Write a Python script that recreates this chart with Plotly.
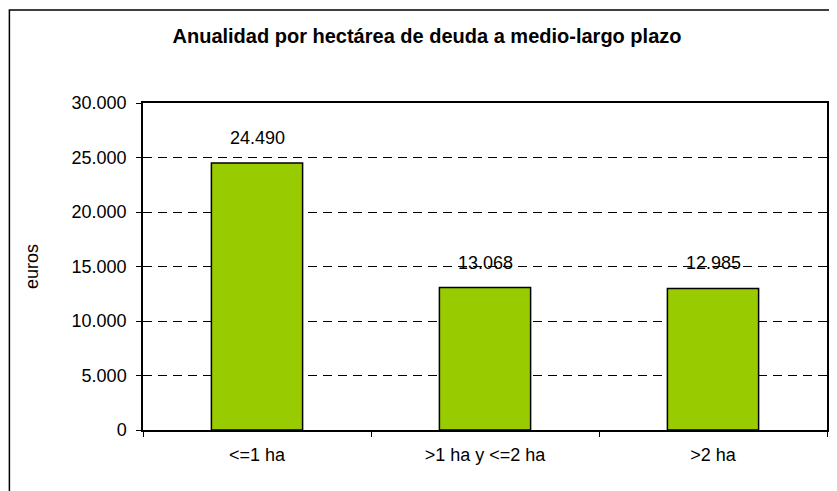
import plotly.graph_objects as go

categories = ["<=1 ha", ">1 ha y <=2 ha", ">2 ha"]
values = [24490, 13068, 12985]
value_labels = ["24.490", "13.068", "12.985"]
y_tick_vals = [0, 5000, 10000, 15000, 20000, 25000, 30000]
y_tick_text = ["0", "5.000", "10.000", "15.000", "20.000", "25.000", "30.000"]

# the page body adds an 8px margin, so the figure is sized to fit the 837x491 window
W, H = 829, 483
L, R, T, B = 135, 8, 95, 61
pw, ph = W - L - R, H - T - B

font_family = "Liberation Sans, Arial, sans-serif"
FS = 18

fig = go.Figure()
fig.add_trace(go.Bar(
    x=categories, y=values,
    marker=dict(color="#99CC00", line=dict(color="black", width=1.5)),
    cliponaxis=False,
))

for c, v, t in zip(categories, values, value_labels):
    fig.add_annotation(x=c, y=v, text=t, showarrow=False,
                       yanchor="bottom", yshift=13,
                       font=dict(family=font_family, size=FS, color="black"))

fig.update_layout(
    width=W, height=H,
    margin=dict(l=L, r=R, t=T, b=B),
    paper_bgcolor="white", plot_bgcolor="white",
    bargap=0.6,
    showlegend=False,
    font=dict(family=font_family, size=FS, color="black"),
    title=dict(text="<b>Anualidad por hectárea de deuda a medio-largo plazo</b>",
               x=419 / W, xanchor="center", y=1 - 28 / H, yanchor="middle",
               font=dict(family=font_family, size=20, color="black")),
)

fig.update_xaxes(
    showline=True, linecolor="black", linewidth=1.5, mirror=True,
    ticks="outside", tickson="boundaries", ticklen=5, tickcolor="black",
    ticklabelstandoff=8,
    tickfont=dict(family=font_family, size=FS, color="black"),
    showgrid=False,
)
fig.update_yaxes(
    range=[0, 30000],
    tickvals=y_tick_vals, ticktext=y_tick_text,
    showline=True, linecolor="black", linewidth=1.5, mirror=True,
    ticks="outside", ticklen=5, tickcolor="black",
    ticklabelstandoff=6,
    tickfont=dict(family=font_family, size=FS, color="black"),
    showgrid=True, gridcolor="black", gridwidth=1, griddash="9px,6px",
    zeroline=False,
    title=dict(text="euros", font=dict(family=font_family, size=FS, color="black"), standoff=28),
)

# outer chart border (only left/top visible in the reference; the rest runs off-canvas)
fig.add_shape(type="rect", xref="paper", yref="paper",
              x0=-(L - 1) / pw, x1=1 + (R + 20) / pw,
              y0=-(B + 20) / ph, y1=1 + (T - 2) / ph,
              line=dict(color="black", width=1.5), fillcolor="rgba(0,0,0,0)", layer="below")

fig.write_html("out.html")
